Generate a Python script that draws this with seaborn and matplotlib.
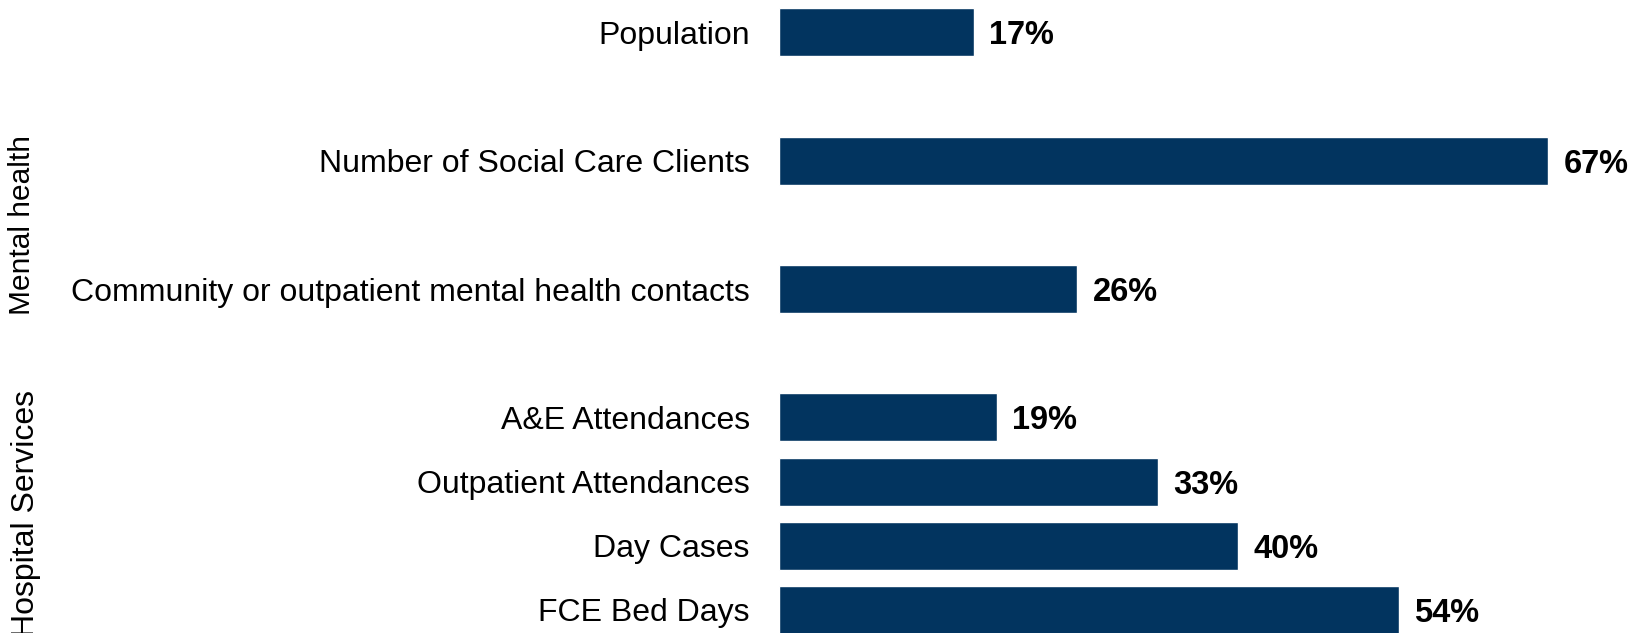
import numpy as np
import pandas as pd
import seaborn as sns
import matplotlib.transforms as mtransforms
from matplotlib import pyplot as plt

# data
categories = ["Population",
              "Number of Social Care Clients",
              "Community or outpatient mental health contacts",
              "A&E Attendances",
              "Outpatient Attendances",
              "Day Cases",
              "FCE Bed Days"]
values = [17, 67, 26, 19, 33, 40, 54]
groups = ["Mental health", "Hospital Services"]

# empty slots give the gaps between rows
order = [categories[0], " ", categories[1], "  ", categories[2], "   ",
         categories[3], categories[4], categories[5], categories[6]]

df = pd.DataFrame({"item": categories, "pct": values})

sns.set_style("white")
plt.rcParams["font.family"] = ["Liberation Sans", "DejaVu Sans"]
plt.rcParams["text.color"] = "black"
plt.rcParams["ytick.color"] = "black"

fig = plt.figure(figsize=(16.41, 6.33), dpi=100)
ax = fig.add_axes([0.4747, 0.0, 0.5253, 1.0])

sns.barplot(data=df, x="pct", y="item", order=order, orient="h",
            color="#02345F", saturation=1, width=0.75, ax=ax)

for c in ax.containers:
    labels = ax.bar_label(c, fmt="%d%%", padding=11, fontsize=23.5,
                          fontweight="bold", color="black")
    for t in labels:
        t.set_va("center_baseline")

ax.set_xlim(0, 75.1)
ax.set_ylim(9.36, -0.505)
ax.set_xlabel("")
ax.set_ylabel("")
ax.set_xticks([])
ax.tick_params(axis="y", length=0, pad=21, labelsize=23)
sns.despine(ax=ax, left=True, bottom=True)

# rotated group labels on the far left
trans = mtransforms.blended_transform_factory(fig.transFigure, ax.transData)
ax.text(0.0134, 3.0, groups[0], transform=trans, rotation=90,
        ha="center", va="center", fontsize=21.5, clip_on=False)
ax.text(0.0158, 7.5, groups[1], transform=trans, rotation=90,
        ha="center", va="center", fontsize=23, clip_on=False)

fig.savefig("out.png", dpi=100)
